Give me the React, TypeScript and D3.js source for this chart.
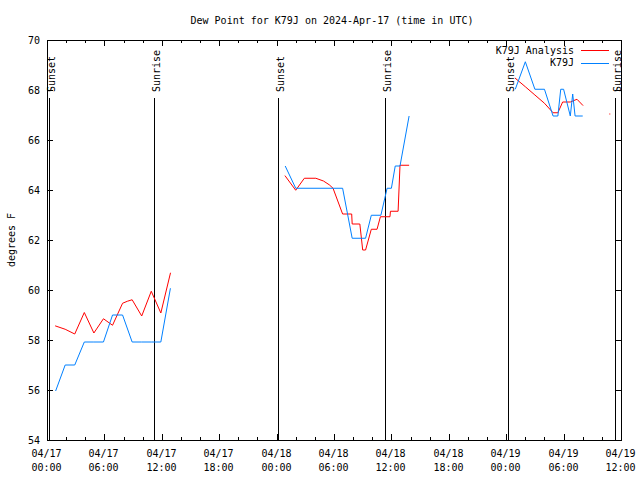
import React from "react";
import * as d3 from "d3";

const W = 640;
const H = 480;

const title = "Dew Point for K79J on 2024-Apr-17 (time in UTC)";
const yLabel = "degrees F";
const seriesNames = ["K79J Analysis", "K79J"];
const seriesColors = ["#ff0000", "#0080ff"];

const startUtc = Date.UTC(2024, 3, 17, 0, 0);
const endUtc = Date.UTC(2024, 3, 19, 12, 0);

// hours since 2024-04-17 00:00 UTC; null marks a gap
const analysisHours = [
  0.9, 1.9, 2.9, 3.9, 4.9, 5.9, 6.85, 7.9, 8.4, 8.9, 9.9, 10.9, 11.9, 12.9, null,
  24.9, 26.0, 26.9, 28.1, 28.9, 29.5, 29.9, 30.9, 31.85, 31.9, 32.7, 33.0, 33.3, 33.9, 34.5, 34.85, 35.85, 35.9, 36.7, 36.9, 37.8, null,
  48.95, 50.0, 51.0, 52.0, 52.9, 53.4, 53.9, 54.7, 55.4, 56.0, null,
  58.83,
];
const analysisValues = [
  58.56, 58.43, 58.24, 59.1, 58.28, 58.85, 58.59, 59.47, 59.55, 59.61, 58.96, 59.95, 59.08, 60.67, null,
  64.56, 63.99, 64.47, 64.47, 64.36, 64.21, 64.07, 63.04, 63.04, 62.64, 62.64, 61.6, 61.6, 62.43, 62.43, 62.93, 62.93, 63.15, 63.15, 64.99, 64.99, null,
  68.47, 68.13, 67.8, 67.47, 67.09, 67.09, 67.52, 67.52, 67.63, 67.39, null,
  67.04,
];

const obsHours = [
  0.9, 1.9, 2.9, 3.9, 4.9, 5.9, 6.85, 7.9, 8.9, 9.9, 10.9, 11.9, 12.9, null,
  24.9, 26.0, 30.9, 31.9, 33.3, 33.9, 34.9, 35.55, 36.0, 36.4, 36.9, 37.85, null,
  48.95, 50.0, 51.0, 52.0, 52.9, 53.4, 53.7, 54.0, 54.7, 54.95, 55.2, 56.0,
];
const obsValues = [
  55.96, 57.0, 57.0, 57.92, 57.92, 57.92, 59.0, 59.0, 57.92, 57.92, 57.92, 57.92, 60.07, null,
  64.96, 64.07, 64.07, 62.07, 62.07, 62.99, 62.99, 64.07, 64.07, 64.96, 64.96, 66.96, null,
  68.03, 69.13, 68.03, 68.03, 66.96, 66.96, 68.03, 68.03, 66.96, 67.84, 66.96, 66.96,
];

const sunsetHours = [0.18, 24.15, 48.19];
const sunriseHours = [11.22, 35.33, 59.37];
const yTicks = [54, 56, 58, 60, 62, 64, 66, 68, 70];

const FONT = "'DejaVu Sans Mono', 'Liberation Mono', monospace";

const toDate = (h: number) => new Date(startUtc + h * 3600e3);

export default function App() {
  const left = 47, right = 621, top = 40, bottom = 440;
  const x = d3.scaleUtc().domain([new Date(startUtc), new Date(endUtc)]).range([left, right]);
  const y = d3.scaleLinear().domain([54, 70]).range([bottom, top]);

  const major = x.ticks(d3.utcHour.every(6) as any);
  const minor = x.ticks(d3.utcHour.every(2) as any).filter((d) => d.getUTCHours() % 6 !== 0);
  const fmtDay = d3.utcFormat("%m/%d");
  const fmtTime = d3.utcFormat("%H:%M");

  type P = [number | null, number | null];
  const line = d3
    .line<P>()
    .defined((d) => d[0] != null && d[1] != null)
    .x((d) => x(toDate(d[0] as number)))
    .y((d) => y(d[1] as number));

  const aPts: P[] = analysisHours.map((h, i) => [h, analysisValues[i]]);
  const oPts: P[] = obsHours.map((h, i) => [h, obsValues[i]]);

  const sun = [
    ...sunsetHours.map((h) => ({ h, label: "Sunset" })),
    ...sunriseHours.map((h) => ({ h, label: "Sunrise" })),
  ];

  return (
    <svg
      width={W}
      height={H}
      style={{ position: "fixed", left: 0, top: 0, background: "#fff" }}
      fontFamily={FONT}
      fontSize={10}
    >
      <rect x={0} y={0} width={W} height={H} fill="#fff" />
      <text x={332} y={20} textAnchor="middle" dominantBaseline="central" fill="#000">
        {title}
      </text>

      {/* sunrise / sunset lines */}
      {sun.map((s, i) => {
        const xs = Math.round(x(toDate(s.h))) + 0.5;
        return (
          <g key={"sun" + i}>
            <line x1={xs} x2={xs} y1={98} y2={bottom} stroke="#000" strokeWidth={1.2} shapeRendering="crispEdges" />
            <text
              transform={`translate(${xs + 1.5},92) rotate(-90)`}
              textAnchor="start"
              dominantBaseline="central"
              fill="#000"
            >
              {s.label}
            </text>
          </g>
        );
      })}

      {/* frame */}
      <rect
        x={left + 0.5}
        y={top + 0.5}
        width={right - left}
        height={bottom - top}
        fill="none"
        stroke="#000"
        shapeRendering="crispEdges"
      />

      {/* y ticks */}
      {yTicks.map((t) => {
        const yy = Math.round(y(t)) + 0.5;
        return (
          <g key={"y" + t}>
            <line x1={left} x2={left + 6} y1={yy} y2={yy} stroke="#000" shapeRendering="crispEdges" />
            <line x1={right} x2={right - 6} y1={yy} y2={yy} stroke="#000" shapeRendering="crispEdges" />
            <text x={40} y={yy} textAnchor="end" dominantBaseline="central" fill="#000">
              {t}
            </text>
          </g>
        );
      })}

      {/* x ticks */}
      {major.map((d, i) => {
        const xx = Math.round(x(d)) + 0.5;
        return (
          <g key={"xm" + i}>
            <line x1={xx} x2={xx} y1={bottom} y2={bottom - 6} stroke="#000" shapeRendering="crispEdges" />
            <line x1={xx} x2={xx} y1={top} y2={top + 6} stroke="#000" shapeRendering="crispEdges" />
            <text x={xx - 1} y={453} textAnchor="middle" dominantBaseline="central" fill="#000">
              {fmtDay(d)}
            </text>
            <text x={xx - 1} y={467} textAnchor="middle" dominantBaseline="central" fill="#000">
              {fmtTime(d)}
            </text>
          </g>
        );
      })}
      {minor.map((d, i) => {
        const xx = Math.round(x(d)) + 0.5;
        return (
          <g key={"xn" + i}>
            <line x1={xx} x2={xx} y1={bottom} y2={bottom - 3} stroke="#000" shapeRendering="crispEdges" />
            <line x1={xx} x2={xx} y1={top} y2={top + 3} stroke="#000" shapeRendering="crispEdges" />
          </g>
        );
      })}

      <text
        transform={`translate(11,240) rotate(-90)`}
        textAnchor="middle"
        dominantBaseline="central"
        fill="#000"
      >
        {yLabel}
      </text>

      {/* series */}
      <path d={line(aPts) || ""} fill="none" stroke={seriesColors[0]} strokeWidth={1} strokeLinecap="square" />
      <path d={line(oPts) || ""} fill="none" stroke={seriesColors[1]} strokeWidth={1} />

      {/* legend */}
      {seriesNames.map((n, i) => {
        const ly = 50 + i * 12.5;
        return (
          <g key={"lg" + i}>
            <text x={574} y={ly} textAnchor="end" dominantBaseline="central" fill="#000">
              {n}
            </text>
            <line x1={581} x2={609} y1={Math.round(ly) + 0.5} y2={Math.round(ly) + 0.5} stroke={seriesColors[i]} shapeRendering="crispEdges" />
          </g>
        );
      })}
    </svg>
  );
}
